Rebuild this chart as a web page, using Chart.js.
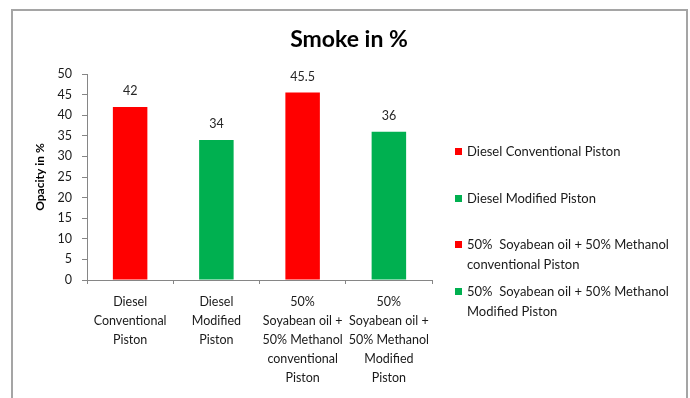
<!DOCTYPE html>
<html><head><meta charset="utf-8">
<script src="https://cdn.jsdelivr.net/npm/chart.js@4.4.1/dist/chart.umd.min.js"></script>
<style>
html,body{margin:0;padding:0;background:#fff;}
#wrap{position:relative;width:690px;height:398px;overflow:hidden;}
#frame{position:absolute;left:11px;top:9px;width:673px;height:400px;border:2px solid #a5a5a5;border-bottom:none;}
canvas{position:absolute;left:0;top:0;}
#legend{position:absolute;left:455px;top:0;font-family:Lato,sans-serif;font-size:13px;color:#1a1a1a;}
.item{position:absolute;left:0;white-space:pre;line-height:19.5px;}
.sw{position:absolute;left:0;top:6px;width:7px;height:7px;}
.txt{position:absolute;left:12px;top:0;}
</style></head>
<body>
<div id="wrap">
<div id="frame"></div>
<canvas id="c" width="690" height="398"></canvas>
<div id="legend"></div>
</div>
<script>
const categories = [
  ["Diesel","Conventional","Piston"],
  ["Diesel","Modified","Piston"],
  ["50%","Soyabean oil +","50% Methanol","conventional","Piston"],
  ["50%","Soyabean oil +","50% Methanol","Modified","Piston"]
];
const smokeValues = [42, 34, 45.5, 36];
const barColors = ["#FF0000", "#00B050", "#FF0000", "#00B050"];
const legendLabels = [
  ["Diesel Conventional Piston"],
  ["Diesel Modified Piston"],
  ["50%  Soyabean oil + 50% Methanol", "conventional Piston"],
  ["50%  Soyabean oil + 50% Methanol", "Modified Piston"]
];
const yMin = 0, yMax = 50, yStep = 5;
const chartTitle = "Smoke in %";
const yTitle = "Opacity in %";

// HTML legend built from arrays
const lg = document.getElementById('legend');
legendLabels.forEach((lines, i) => {
  const it = document.createElement('div');
  it.className = 'item';
  it.style.top = (142 + i * 46.7) + 'px';
  const sw = document.createElement('div');
  sw.className = 'sw';
  sw.style.background = barColors[i];
  const tx = document.createElement('div');
  tx.className = 'txt';
  tx.textContent = lines.join('\n');
  it.appendChild(sw); it.appendChild(tx);
  lg.appendChild(it);
});

const valueLabels = {
  id: 'valueLabels',
  afterDatasetsDraw(chart) {
    const ctx = chart.ctx;
    const meta = chart.getDatasetMeta(0);
    ctx.save();
    ctx.font = '12.5px Lato, sans-serif';
    ctx.fillStyle = '#262626';
    ctx.textAlign = 'center';
    ctx.textBaseline = 'middle';
    meta.data.forEach((bar, i) => {
      ctx.fillText(String(chart.data.datasets[0].data[i]), bar.x, bar.y - 16);
    });
    ctx.restore();
  }
};

const gridCol = '#868686';
new Chart(document.getElementById('c'), {
  type: 'bar',
  data: {
    labels: categories,
    datasets: [{
      data: smokeValues,
      backgroundColor: barColors,
      borderWidth: 0,
      categoryPercentage: 1,
      barPercentage: 0.4
    }]
  },
  options: {
    responsive: false,
    maintainAspectRatio: false,
    animation: false,
    devicePixelRatio: 1,
    layout: { padding: { left: 8, right: 0, top: 0, bottom: 0 } },
    plugins: {
      legend: { display: false },
      tooltip: { enabled: false },
      title: {
        display: true, text: chartTitle, color: '#000',
        font: { family: 'Lato', size: 23, weight: 'bold' },
        padding: { top: 26, bottom: 20.4 }
      }
    },
    scales: {
      x: {
        grid: { display: true, drawOnChartArea: false, drawTicks: true, tickLength: 4, color: gridCol, offset: true },
        border: { color: gridCol },
        ticks: { font: { family: 'Lato', size: 12.5, lineHeight: 1.52 }, color: '#1a1a1a', padding: 8, maxRotation: 0, autoSkip: false },
        afterFit(s) { s.height = 118; }
      },
      y: {
        min: yMin, max: yMax,
        ticks: { stepSize: yStep, font: { family: 'Lato', size: 12.5 }, color: '#1a1a1a', padding: 10 },
        grid: { drawOnChartArea: false, drawTicks: true, tickLength: 5, color: gridCol },
        border: { color: gridCol },
        title: { display: true, text: yTitle, color: '#000', font: { family: 'Lato', size: 12, weight: 'bold' }, padding: { top: 25, bottom: 0 } },
        afterFit(s) { s.width = 79; }
      },
      y2: {
        position: 'right', display: true,
        grid: { display: false }, border: { display: false }, ticks: { display: false },
        afterFit(s) { s.width = 258; }
      }
    }
  },
  plugins: [valueLabels]
});
</script>
</body></html>
